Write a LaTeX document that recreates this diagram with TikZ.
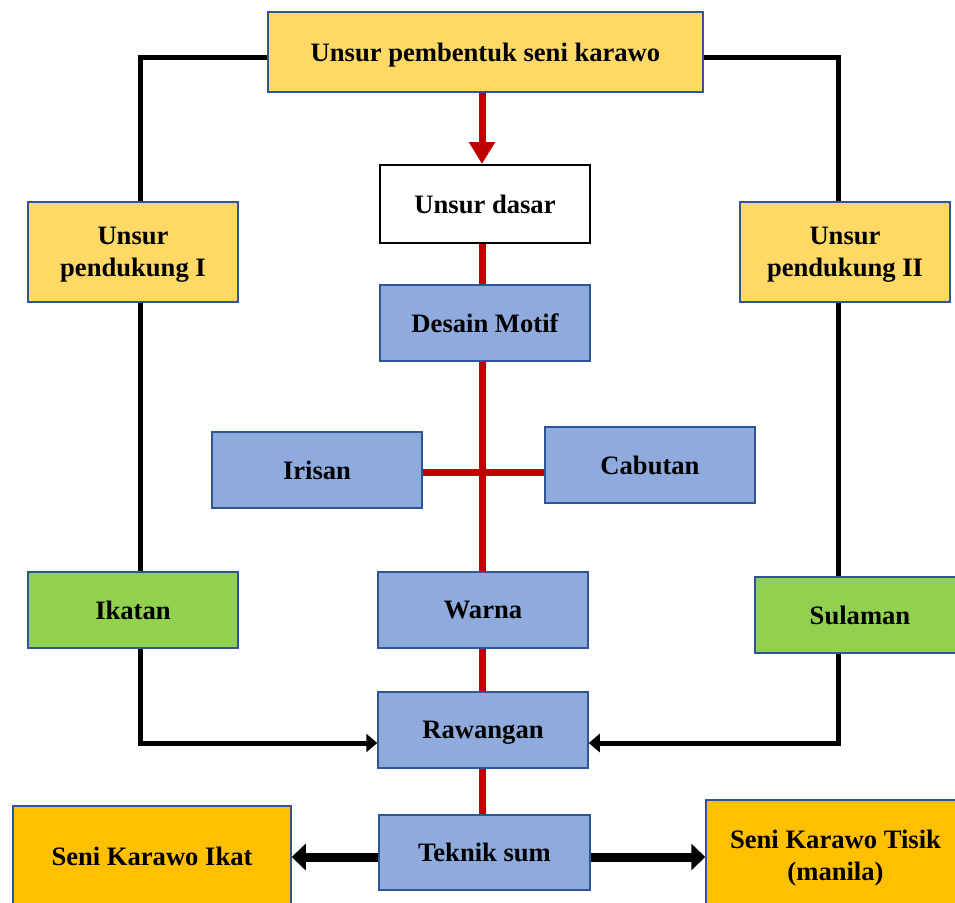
\documentclass[tikz,border=0pt]{standalone}
\usepackage{fontspec}
\setmainfont{Liberation Serif}
\usetikzlibrary{arrows.meta}
\definecolor{ylw}{HTML}{FFD966}
\definecolor{blu}{HTML}{8FAADC}
\definecolor{grn}{HTML}{92D050}
\definecolor{org}{HTML}{FFC000}
\definecolor{bord}{HTML}{2F5597}
\definecolor{redl}{HTML}{C00000}
\begin{document}
\begin{tikzpicture}[x=1pt,y=-1pt,
  box/.style={draw=bord,line width=1.5pt,rectangle,inner sep=0pt,align=center,
    font=\fontsize{26.6}{32}\selectfont\bfseries,text=black,text depth=0pt},
  ybox/.style={box,fill=ylw},
  bbox/.style={box,fill=blu},
  gbox/.style={box,fill=grn},
  obox/.style={box,fill=org},
  wbox/.style={box,draw=black,line width=2pt,fill=white},
  blk/.style={draw=black,line width=5pt},
  blkarrow/.style={blk,-{Triangle[length=11pt,width=18pt]}},
  thickarrow/.style={draw=black,line width=9pt,-{Triangle[length=14pt,width=26pt]}},
  redline/.style={draw=redl,line width=7pt},
  redarrow/.style={redline,-{Triangle[length=22pt,width=25pt]}}]
\useasboundingbox (0,0) rectangle (955,902);
\clip (0,0) rectangle (955,902);
\fill[white] (0,0) rectangle (955,902);

\coordinate (L) at (140,0);
\coordinate (R) at (838,0);
\coordinate (C) at (482,0);
\coordinate (T) at (0,57);
\coordinate (H) at (0,472);
\coordinate (A) at (0,743);
\coordinate (B) at (0,857);

% nodes
\node[ybox,minimum width=435pt,minimum height=80pt] (top) at (485.5,52) {Unsur pembentuk seni karawo};
\node[wbox,minimum width=210pt,minimum height=78pt] (dasar) at (485,204) {Unsur dasar};
\node[ybox,minimum width=210pt,minimum height=100pt] (p1) at (133,252) {Unsur\\pendukung I};
\node[ybox,minimum width=210pt,minimum height=100pt] (p2) at (845,252) {Unsur\\pendukung II};
\node[bbox,minimum width=210pt,minimum height=76pt] (desain) at (485,323) {Desain Motif};
\node[bbox,minimum width=210pt,minimum height=76pt] (irisan) at (317,470) {Irisan};
\node[bbox,minimum width=210pt,minimum height=76pt] (cabutan) at (650,465) {Cabutan};
\node[gbox,minimum width=210pt,minimum height=76pt] (ikatan) at (133,610) {Ikatan};
\node[bbox,minimum width=210pt,minimum height=76pt] (warna) at (483,610) {Warna};
\node[gbox,minimum width=210pt,minimum height=76pt,text width=200pt] (sulaman) at (860,615) {Sulaman};
\node[bbox,minimum width=210pt,minimum height=76pt] (rawangan) at (483,730) {Rawangan};
\node[bbox,minimum width=211pt,minimum height=75pt] (teknik) at (484.5,852.5) {Teknik sum};
\node[obox,minimum width=278pt,minimum height=100pt] (ikat) at (152,856) {Seni Karawo Ikat};
\node[obox,minimum width=259pt,minimum height=110pt] (tisik) at (835.5,855) {Seni Karawo Tisik\\(manila)};

% black connectors
\draw[blk] (top.west |- T) -| (p1.north -| L);
\draw[blk] (top.east |- T) -| (p2.north -| R);
\draw[blk] (p1.south -| L) -- (ikatan.north -| L);
\draw[blk] (p2.south -| R) -- (sulaman.north -| R);
\draw[blkarrow] (ikatan.south -| L) |- (rawangan.west |- A);
\draw[blkarrow] (sulaman.south -| R) |- (rawangan.east |- A);
\draw[thickarrow] (teknik.west |- B) -- (ikat.east |- B);
\draw[thickarrow] (teknik.east |- B) -- (tisik.west |- B);

% red connectors
\draw[redarrow] (top.south -| C) -- (dasar.north -| C);
\draw[redline] (dasar.south -| C) -- (desain.north -| C);
\draw[redline] (desain.south -| C) -- (warna.north -| C);
\draw[redline] (irisan.east |- H) -- (cabutan.west |- H);
\draw[redline] (warna.south -| C) -- (rawangan.north -| C);
\draw[redline] (rawangan.south -| C) -- (teknik.north -| C);
\end{tikzpicture}
\end{document}
